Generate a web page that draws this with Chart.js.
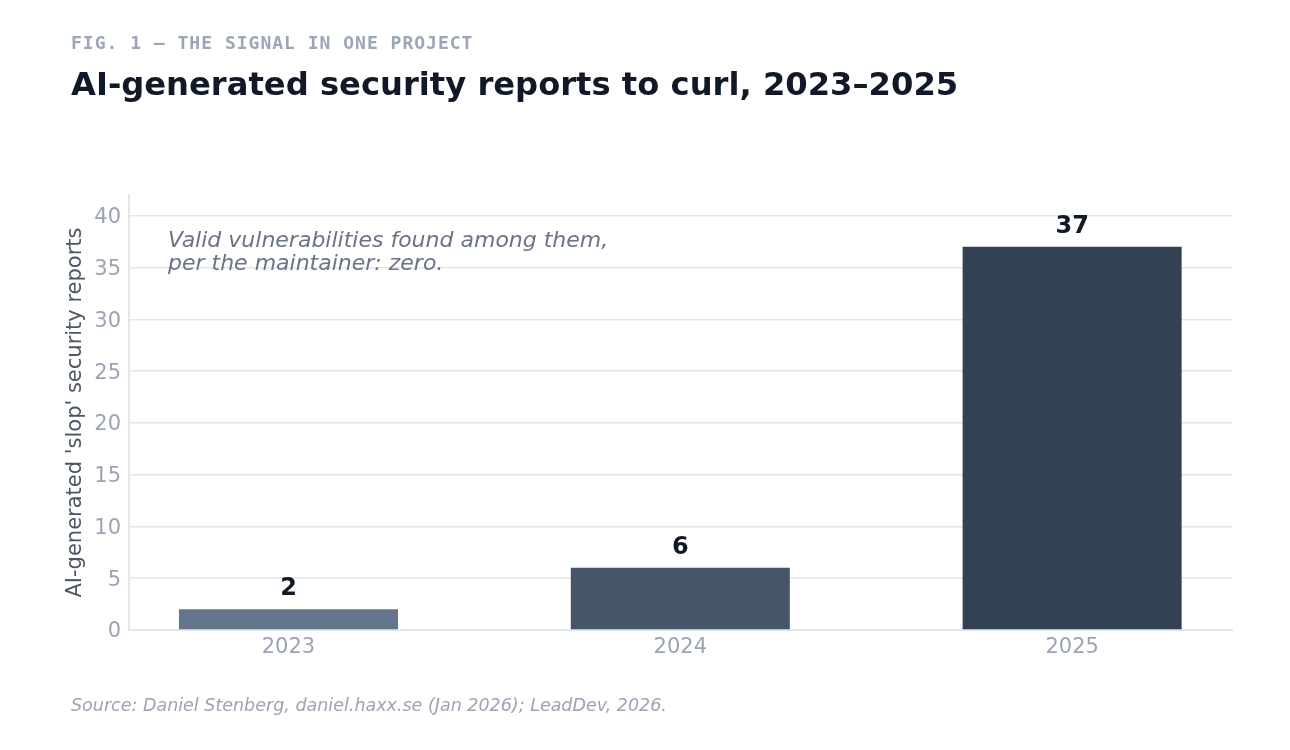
<!DOCTYPE html>
<html>
<head>
<meta charset="utf-8">
<script src="https://cdn.jsdelivr.net/npm/chart.js@4"></script>
<style>
  html, body { margin: 0; padding: 0; background: #fff; }
  body { width: 1290px; height: 750px; position: relative; overflow: hidden; font-family: "DejaVu Sans", sans-serif; }
  #kicker { position: absolute; left: 71px; top: 32px; font: bold 18px "DejaVu Sans Mono", monospace; letter-spacing: 1px; color: #9ca6b8; }
  #title { position: absolute; left: 71px; top: 65px; font: bold 32.2px "DejaVu Sans", sans-serif; color: #111827; }
  #source { position: absolute; left: 71px; top: 695px; font: italic 17.5px "DejaVu Sans", sans-serif; color: #9ca3b4; }
  #wrap { position: absolute; left: 0; top: 0; width: 1290px; height: 750px; }
</style>
</head>
<body>
<div id="wrap"><canvas id="c"></canvas></div>
<div id="kicker">FIG. 1 — THE SIGNAL IN ONE PROJECT</div>
<div id="title">AI-generated security reports to curl, 2023–2025</div>
<div id="source">Source: Daniel Stenberg, daniel.haxx.se (Jan 2026); LeadDev, 2026.</div>
<script>
const years = ['2023', '2024', '2025']
const reports = [2, 6, 37]
const barColors = ['#64748b', '#475569', '#334155']
const yTicks = [0, 5, 10, 15, 20, 25, 30, 35, 40]
const note = ['Valid vulnerabilities found among them,', 'per the maintainer: zero.']

// value labels above bars
const valueLabels = {
    id: 'valueLabels',
    afterDatasetsDraw(chart) {
        const ctx = chart.ctx
        const meta = chart.getDatasetMeta(0)
        ctx.save()
        ctx.font = 'bold 24px "DejaVu Sans"'
        ctx.fillStyle = '#111827'
        ctx.textAlign = 'center'
        ctx.textBaseline = 'alphabetic'
        meta.data.forEach((bar, i) => {
            ctx.fillText(String(reports[i]), bar.x, bar.y - 14)
        })
        ctx.restore()
    }
}

// italic note in the top left of the plot
const noteText = {
    id: 'noteText',
    afterDraw(chart) {
        const ctx = chart.ctx
        const area = chart.chartArea
        ctx.save()
        ctx.font = 'italic 22px "DejaVu Sans"'
        ctx.fillStyle = '#6b7386'
        ctx.textAlign = 'left'
        ctx.textBaseline = 'alphabetic'
        note.forEach((line, i) => {
            ctx.fillText(line, area.left + 39, 247 + i * 23)
        })
        ctx.restore()
    }
}

const points = years.map((y, i) => ({ x: Number(y), y: reports[i] }))

new Chart(document.getElementById('c'), {
    type: 'bar',
    data: {
        datasets: [{
            data: points,
            backgroundColor: barColors,
            borderWidth: 0,
            barPercentage: 0.559,
            categoryPercentage: 1
        }]
    },
    options: {
        responsive: true,
        maintainAspectRatio: false,
        animation: false,
        layout: { padding: { top: 195, right: 58, bottom: 80, left: 0 } },
        plugins: { legend: { display: false }, tooltip: { enabled: false } },
        scales: {
            x: {
                type: 'linear',
                offset: false,
                min: 2022.593,
                max: 2025.408,
                afterFit: (s) => { s.height = 40 },
                grid: { display: false, drawTicks: false, offset: false },
                border: { display: true, color: '#e2e6ee', width: 2 },
                ticks: {
                    stepSize: 1,
                    includeBounds: false,
                    padding: 5,
                    color: '#9ca3b4',
                    font: { family: 'DejaVu Sans', size: 21 },
                    callback: (v) => years.includes(String(v)) ? String(v) : ''
                }
            },
            y: {
                min: 0,
                max: 42,
                afterFit: (s) => { s.width = 129 },
                afterBuildTicks: (s) => { s.ticks = yTicks.map(v => ({ value: v })) },
                grid: { color: '#e2e6ee', lineWidth: 1.5, drawTicks: false },
                border: { display: true, color: '#e2e6ee', width: 2 },
                ticks: {
                    padding: 8,
                    labelOffset: 2,
                    color: '#9ca3b4',
                    font: { family: 'DejaVu Sans', size: 21 }
                },
                title: {
                    display: true,
                    text: "AI-generated 'slop' security reports",
                    color: '#4b5563',
                    font: { family: 'DejaVu Sans', size: 21 },
                    padding: { top: 63, bottom: 0 }
                }
            }
        }
    },
    plugins: [valueLabels, noteText]
})
</script>
</body>
</html>
